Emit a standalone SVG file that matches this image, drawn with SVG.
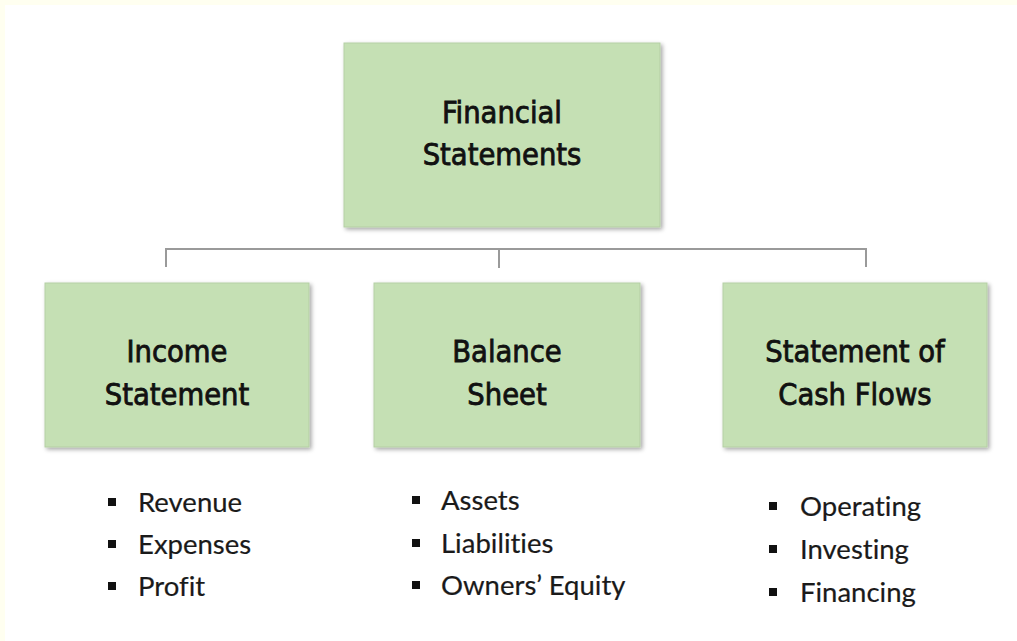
<svg xmlns="http://www.w3.org/2000/svg" width="1017" height="641" viewBox="0 0 1017 641">
  <style>
    .box { fill: #c5e0b4; stroke: #b5cfa5; stroke-width: 1; filter: url(#sh); }
    .lbl { font-family: "DejaVu Sans Condensed", "DejaVu Sans", sans-serif; font-stretch: condensed; font-size: 30.5px; fill: #111; stroke: #111; stroke-width: 0.8; text-anchor: middle; }
    .item { font-family: Lato, "Open Sans", sans-serif; font-size: 27.5px; fill: #1a1a1a; stroke: #1a1a1a; stroke-width: 0.2; font-variant-ligatures: none; }
    .bul { fill: #111; }
    .conn { stroke: #9a9a9a; stroke-width: 2; fill: none; }
  </style>
  <defs>
    <filter id="sh" x="-5%" y="-5%" width="112%" height="115%">
      <feDropShadow dx="2" dy="2" stdDeviation="2" flood-color="#000" flood-opacity="0.35"/>
    </filter>
  </defs>
  <rect x="0" y="0" width="1017" height="641" fill="#ffffff"/>
  <rect x="0" y="0" width="1017" height="5" fill="#fffff0"/>
  <rect x="0" y="0" width="5" height="641" fill="#fffff0"/>

  <g id="connectors">
    <path class="conn" d="M166 267 V249 H866 V267"/>
    <path class="conn" d="M499 249 V268"/>
  </g>

  <g id="financial-statements">
    <rect class="box" x="344" y="43" width="316" height="184"/>
    <text class="lbl" x="502" y="123">Financial</text>
    <text class="lbl" x="502" y="165">Statements</text>
  </g>

  <g id="income-statement">
    <rect class="box" x="45" y="283" width="264" height="164"/>
    <text class="lbl" x="177" y="362">Income</text>
    <text class="lbl" x="177" y="405">Statement</text>
  </g>

  <g id="balance-sheet">
    <rect class="box" x="374" y="283" width="266" height="164"/>
    <text class="lbl" x="507" y="362">Balance</text>
    <text class="lbl" x="507" y="405">Sheet</text>
  </g>

  <g id="cash-flows">
    <rect class="box" x="723" y="283" width="264" height="164"/>
    <text class="lbl" x="855" y="362">Statement of</text>
    <text class="lbl" x="855" y="405">Cash Flows</text>
  </g>

  <g id="income-items">
    <rect class="bul" x="108" y="498" width="8" height="8"/>
    <rect class="bul" x="108" y="540" width="8" height="8"/>
    <rect class="bul" x="108" y="582" width="8" height="8"/>
    <text class="item" x="138" y="512">Revenue</text>
    <text class="item" x="138" y="554">Expenses</text>
    <text class="item" x="138" y="596">Profit</text>
  </g>

  <g id="balance-items">
    <rect class="bul" x="412" y="496" width="8" height="8"/>
    <rect class="bul" x="412" y="539" width="8" height="8"/>
    <rect class="bul" x="412" y="581" width="8" height="8"/>
    <text class="item" x="441" y="510">Assets</text>
    <text class="item" x="441" y="553">Liabilities</text>
    <text class="item" x="441" y="595">Owners’ Equity</text>
  </g>

  <g id="cash-items">
    <rect class="bul" x="769" y="502" width="8" height="8"/>
    <rect class="bul" x="769" y="545" width="8" height="8"/>
    <rect class="bul" x="769" y="588" width="8" height="8"/>
    <text class="item" x="800" y="516">Operating</text>
    <text class="item" x="800" y="559">Investing</text>
    <text class="item" x="800" y="602">Financing</text>
  </g>
</svg>
